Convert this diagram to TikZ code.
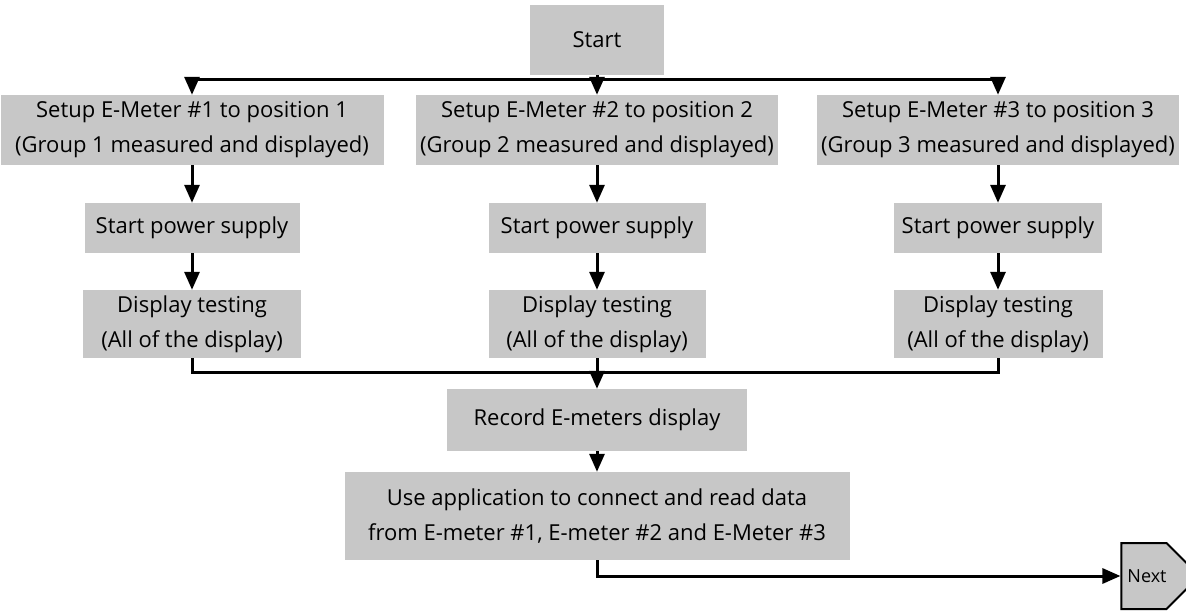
\documentclass[tikz,border=0pt]{standalone}
\usepackage{fontspec}
\setmainfont{Open Sans}
\usetikzlibrary{arrows.meta,shapes.symbols}
\begin{document}
\begin{tikzpicture}[x=1pt,y=-1pt,
  box/.style={fill=black!22, draw=none, align=center, inner sep=0pt, font=\fontsize{22}{35}\selectfont},
  conn/.style={line width=3pt},
  arr/.style={conn,-{Triangle[width=15pt,length=18pt]}}]
\useasboundingbox (0,0) rectangle (1186,612);
% nodes
\node[box, minimum width=134, minimum height=70] (start) at (597,40) {Start};
\node[box, minimum width=383, minimum height=70] (s1) at (192,130) {Setup E-Meter \#1 to position 1\\(Group 1 measured and displayed)};
\node[box, minimum width=362, minimum height=70] (s2) at (597,130) {Setup E-Meter \#2 to position 2\\(Group 2 measured and displayed)};
\node[box, minimum width=362, minimum height=70] (s3) at (998,130) {Setup E-Meter \#3 to position 3\\(Group 3 measured and displayed)};
\node[box, minimum width=215, minimum height=50] (p1) at (192,228) {Start power supply};
\node[box, minimum width=217, minimum height=50] (p2) at (597,228) {Start power supply};
\node[box, minimum width=208, minimum height=50] (p3) at (998,228) {Start power supply};
\node[box, minimum width=218, minimum height=68] (d1) at (192,324) {Display testing\\(All of the display)};
\node[box, minimum width=217, minimum height=68] (d2) at (597,324) {Display testing\\(All of the display)};
\node[box, minimum width=209, minimum height=68] (d3) at (998,324) {Display testing\\(All of the display)};
\node[box, minimum width=300, minimum height=62] (rec) at (597,420) {Record E-meters display};
\node[box, minimum width=505, minimum height=88] (use) at (597,516) {Use application to connect and read data\\from E-meter \#1, E-meter \#2 and E-Meter \#3};
\node[box, signal, signal to=east, draw=black, line width=2pt, minimum width=74, minimum height=66, font=\fontsize{18}{22}\selectfont] (next) at (1144,576) {\hspace*{6pt}Next};
\coordinate (split) at (597,80);
\coordinate (join) at (597,372);
% connectors
\draw[conn] (start) -- (split);
\draw[conn] (s1.north |- split) -- (s3.north |- split);
\draw[arr] (s1.north |- split) -- (s1.north);
\draw[arr] (split) -- (s2.north);
\draw[arr] (s3.north |- split) -- (s3.north);
\draw[arr] (s1) -- (p1);
\draw[arr] (s2) -- (p2);
\draw[arr] (s3) -- (p3);
\draw[arr] (p1) -- (d1);
\draw[arr] (p2) -- (d2);
\draw[arr] (p3) -- (d3);
\draw[conn] (d1.south) -- (d1.south |- join) -- (d3.south |- join) -- (d3.south);
\draw[arr] (d2) -- (rec);
\draw[arr] (rec) -- (use);
\draw[arr] (use.south) |- (next.west);
\end{tikzpicture}
\end{document}
